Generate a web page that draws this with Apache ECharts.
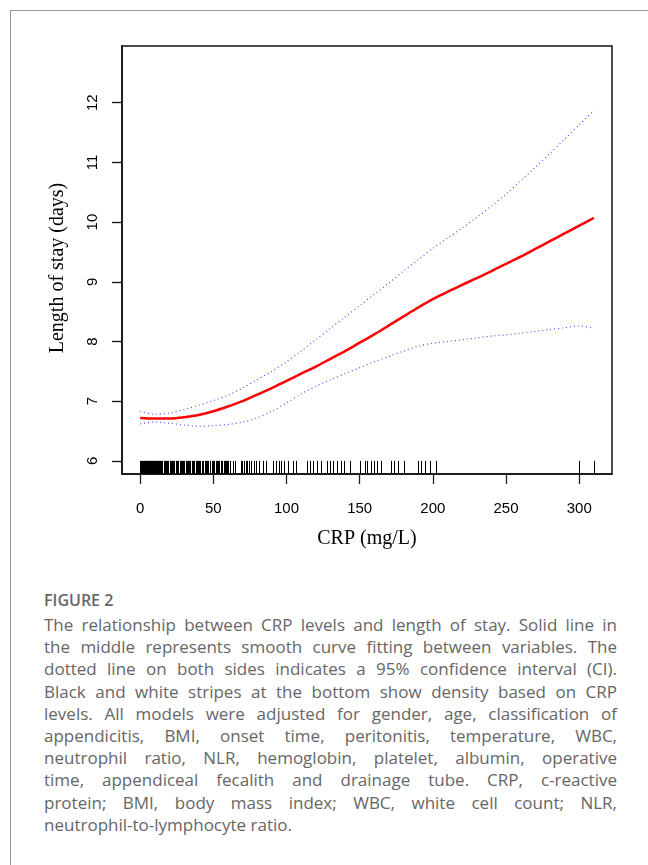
<!DOCTYPE html>
<html>
<head>
<meta charset="utf-8">
<script src="https://cdn.jsdelivr.net/npm/echarts@6/dist/echarts.min.js"></script>
<style>
  body { margin: 0; background: #fff; }
  #wrap { position: relative; width: 648px; height: 865px; overflow: hidden; }
  #frame { position: absolute; left: 10px; top: 10px; width: 700px; height: 900px;
           border-left: 1px solid #999; border-top: 1px solid #999; }
  #chart { position: absolute; left: 0; top: 0; width: 648px; height: 580px; }
  #caption { position: absolute; left: 44px; top: 590px; width: 573px;
             font-family: 'Open Sans', sans-serif; color: #666; }
  #caption .fig { font-size: 16px; font-weight: 600; line-height: 21px; margin-bottom: 3px; }
  #caption .ln { font-size: 17px; line-height: 22.2px; text-align: justify; text-align-last: justify; }
  #caption .ln.last { text-align-last: left; }
</style>
</head>
<body>
<div id="wrap">
  <div id="frame"></div>
  <div id="chart"></div>
  <div id="caption"></div>
</div>
<script>
// smooth curve (every 10 mg/L)
const crpGrid = [0, 10, 20, 30, 40, 50, 60, 70, 80, 90, 100, 110, 120, 130, 140, 150,
  160, 170, 180, 190, 200, 210, 220, 230, 240, 250, 260, 270, 280, 290, 300, 310];
const fitLOS = [6.72, 6.71, 6.71, 6.73, 6.77, 6.83, 6.91, 7.00, 7.11, 7.22, 7.34, 7.46, 7.58, 7.71, 7.84, 7.98,
  8.12, 8.27, 8.42, 8.57, 8.71, 8.83, 8.95, 9.06, 9.18, 9.30, 9.42, 9.55, 9.68, 9.81, 9.94, 10.07];
const upperCI = [6.83, 6.78, 6.80, 6.86, 6.93, 7.01, 7.10, 7.22, 7.36, 7.50, 7.66, 7.84, 8.03, 8.22, 8.41, 8.60,
  8.79, 8.98, 9.18, 9.37, 9.56, 9.73, 9.90, 10.08, 10.27, 10.47, 10.69, 10.92, 11.15, 11.39, 11.63, 11.87];
const lowerCI = [6.62, 6.65, 6.63, 6.60, 6.58, 6.59, 6.61, 6.65, 6.72, 6.83, 6.97, 7.12, 7.25, 7.36, 7.46, 7.56,
  7.66, 7.75, 7.84, 7.92, 7.97, 8.00, 8.03, 8.06, 8.09, 8.11, 8.14, 8.17, 8.20, 8.23, 8.26, 8.22];

// rug of observed CRP values
const rugCRP = [0, 0.5, 1, 1.5, 2, 2.5, 3, 3.5, 4, 4.5, 5, 5.5, 6, 6.5, 7, 7.5, 8, 8.5, 9, 9.5, 10, 10.5, 11, 11.5, 12,
  13, 13.6, 14.3, 15, 16.2, 16.9, 17.6, 18.3, 19, 20.3, 21, 21.7, 22.4, 23.1, 24.5, 25.2, 26, 27.2, 27.9, 28.6,
  29.3, 30, 31.4, 32, 32.8, 33.5, 34.2, 35.6, 36.3, 37, 38.2, 39, 39.7, 40.4, 41.1, 42.5, 43.2, 44, 45.2, 46,
  46.7, 47.4, 48.8, 49.5, 50.2, 51.6, 52.3, 53, 54.2, 55, 55.7, 57, 57.8, 58.5, 59.2, 60,
  61.6, 63.5, 65.1, 68.6, 69.7, 70.9, 72.0, 73.2, 74.3, 75.9, 77.8, 79.4, 81.3, 83.6, 85.9,
  90.9, 92.8, 94.6, 96.3, 98.6, 101.3, 104.3, 106.6, 114.0, 115.9, 118.2, 120.5, 123.3,
  127.9, 129.7, 132.0, 134.3, 137.1, 139.4, 143.6, 150.5, 153.3, 155.1, 157.4, 159.7, 161.6, 164.4,
  171.7, 173.6, 175.9, 180.5, 189.7, 192.1, 194.8, 197.8, 202.4, 300.1, 309.8];
const RUG_TOP = 6;

const xTicks = [0, 50, 100, 150, 200, 250, 300];
const yTicks = [6, 7, 8, 9, 10, 11, 12];

const captionTitle = 'FIGURE 2';
const captionLines = [
  'The relationship between CRP levels and length of stay. Solid line in',
  'the middle represents smooth curve fitting between variables. The',
  'dotted line on both sides indicates a 95% confidence interval (CI).',
  'Black and white stripes at the bottom show density based on CRP',
  'levels. All models were adjusted for gender, age, classification of',
  'appendicitis, BMI, onset time, peritonitis, temperature, WBC,',
  'neutrophil ratio, NLR, hemoglobin, platelet, albumin, operative',
  'time, appendiceal fecalith and drainage tube. CRP, c-reactive',
  'protein; BMI, body mass index; WBC, white cell count; NLR,',
  'neutrophil-to-lymphocyte ratio.'
];

const cap = document.getElementById('caption');
let html = '<div class="fig">' + captionTitle + '</div>';
captionLines.forEach((t, i) => {
  html += '<div class="ln' + (i === captionLines.length - 1 ? ' last' : '') + '">' + t + '</div>';
});
cap.innerHTML = html;

const pair = (arr) => crpGrid.map((x, i) => [x, arr[i]]);
const Y_MIN = 5.78;
const Y_MAX = 12.95;

const chart = echarts.init(document.getElementById('chart'));
chart.setOption({
  animation: false,
  grid: {
    left: 122, right: 36, top: 46, height: 428,
    show: true, borderColor: '#111', borderWidth: 1.5
  },
  xAxis: {
    type: 'value', min: -12.4, max: 322.4,
    name: 'CRP (mg/L)', nameLocation: 'middle', nameGap: 55,
    nameTextStyle: { fontFamily: 'Liberation Serif', fontSize: 20, color: '#000' },
    axisLine: { show: true, onZero: false, lineStyle: { color: '#111', width: 1.5 } },
    splitLine: { show: false },
    axisTick: { show: true, customValues: xTicks, length: 10, lineStyle: { color: '#222', width: 1.3 } },
    axisLabel: { customValues: xTicks, margin: 27, fontFamily: 'Liberation Sans', fontSize: 15, color: '#000' }
  },
  yAxis: {
    type: 'value', min: Y_MIN, max: Y_MAX,
    name: 'Length of stay (days)', nameLocation: 'middle', nameGap: 54, nameRotate: 90,
    nameTextStyle: { fontFamily: 'Liberation Serif', fontSize: 20, color: '#000', padding: [0, 16, 0, 0] },
    axisLine: { show: true, onZero: false, lineStyle: { color: '#111', width: 1.5 } },
    splitLine: { show: false },
    axisTick: { show: true, customValues: yTicks, length: 10, lineStyle: { color: '#111', width: 1.3 } },
    axisLabel: { customValues: yTicks, rotate: 90, margin: 22, fontFamily: 'Liberation Sans', fontSize: 15, color: '#000' }
  },
  series: [
    {
      type: 'custom',
      data: rugCRP.map(v => [v, RUG_TOP]),
      encode: { x: 0, y: 1 },
      silent: true,
      renderItem: function (params, api) {
        const x = api.value(0);
        const p0 = api.coord([x, Y_MIN]);
        const p1 = api.coord([x, api.value(1)]);
        return {
          type: 'line',
          shape: { x1: Math.round(p0[0]) + 0.5, y1: p0[1], x2: Math.round(p1[0]) + 0.5, y2: p1[1] },
          style: { stroke: '#000', lineWidth: 1 }
        };
      }
    },
    {
      type: 'line', data: pair(upperCI), showSymbol: false, smooth: 0.3,
      lineStyle: { color: '#4444ff', width: 1.1, type: [1, 3] }
    },
    {
      type: 'line', data: pair(lowerCI), showSymbol: false, smooth: 0.3,
      lineStyle: { color: '#4444ff', width: 1.1, type: [1, 3] }
    },
    {
      type: 'line', data: pair(fitLOS), showSymbol: false, smooth: 0.3,
      lineStyle: { color: '#ff0000', width: 2.5 }
    }
  ]
});
</script>
</body>
</html>
